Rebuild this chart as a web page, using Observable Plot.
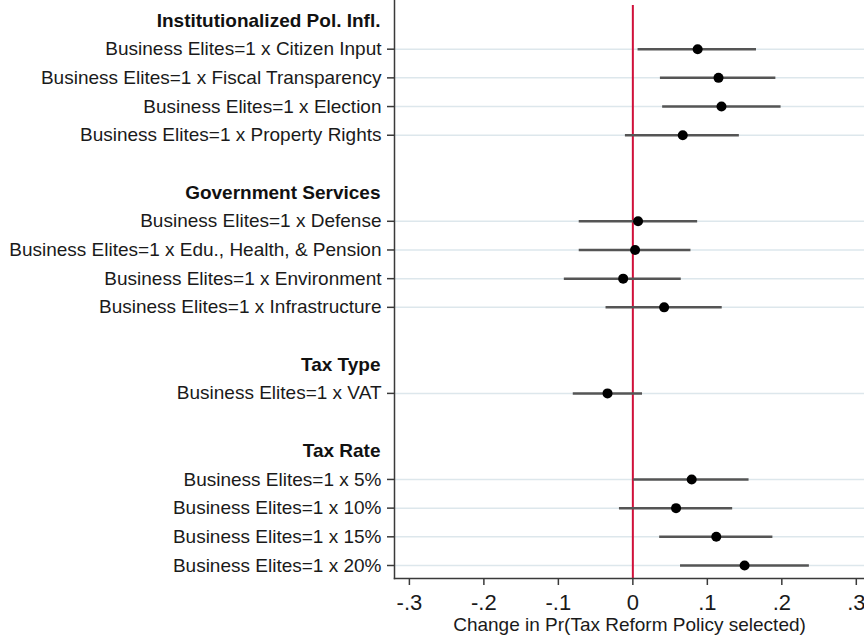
<!DOCTYPE html>
<html>
<head>
<meta charset="utf-8">
<script src="https://cdn.jsdelivr.net/npm/d3@7"></script>
<script src="https://cdn.jsdelivr.net/npm/@observablehq/plot@0.6"></script>
<style>
  html, body { margin: 0; padding: 0; background: #fff; }
  #chart svg { display: block; }
</style>
</head>
<body>
<div id="chart"></div>
<script>
// ---- data ----
const groups = ["Institutionalized Pol. Infl.", "Government Services", "Tax Type", "Tax Rate"];
const termLabels = [
  "Business Elites=1 x Citizen Input",
  "Business Elites=1 x Fiscal Transparency",
  "Business Elites=1 x Election",
  "Business Elites=1 x Property Rights",
  "Business Elites=1 x Defense",
  "Business Elites=1 x Edu., Health, & Pension",
  "Business Elites=1 x Environment",
  "Business Elites=1 x Infrastructure",
  "Business Elites=1 x VAT",
  "Business Elites=1 x 5%",
  "Business Elites=1 x 10%",
  "Business Elites=1 x 15%",
  "Business Elites=1 x 20%"
];
const termGroup = [0, 0, 0, 0, 1, 1, 1, 1, 2, 3, 3, 3, 3];
const estimates = [0.087, 0.115, 0.119, 0.067, 0.007, 0.003, -0.013, 0.042, -0.034, 0.079, 0.058, 0.112, 0.150];
const lower     = [0.007, 0.037, 0.040, -0.010, -0.072, -0.072, -0.092, -0.036, -0.080, 0.001, -0.018, 0.036, 0.064];
const upper     = [0.166, 0.192, 0.199, 0.143, 0.087, 0.078, 0.065, 0.120, 0.013, 0.156, 0.134, 0.188, 0.237];
const xTickValues = [-0.3, -0.2, -0.1, 0, 0.1, 0.2, 0.3];
const xTickLabels = ["-.3", "-.2", "-.1", "0", ".1", ".2", ".3"];
const xTitle = "Change in Pr(Tax Reform Policy selected)";

// ---- build row order (headers, terms, gaps) ----
const rows = [];
groups.forEach((g, gi) => {
  if (gi > 0) rows.push("__gap" + gi);
  rows.push(g);
  termLabels.forEach((t, i) => { if (termGroup[i] === gi) rows.push(t); });
});
const table = termLabels.map((t, i) => ({label: t, est: estimates[i], lo: lower[i], hi: upper[i]}));
const tickFmt = new Map(xTickValues.map((v, i) => [v, xTickLabels[i]]));

const font = "'Liberation Sans', Arial, Helvetica, sans-serif";
const axisColor = "#3a3a3a";

const chart = Plot.plot({
  width: 864,
  height: 642,
  marginLeft: 394,
  marginRight: 0,
  marginTop: 0,
  marginBottom: 64,
  style: {fontFamily: font, fontSize: "19px", color: "#1a1a1a", background: "#fff"},
  x: {domain: [-0.32, 0.311]},
  y: {type: "point", domain: rows, padding: 0, round: false, insetTop: 20, insetBottom: 13},
  marks: [
    Plot.ruleY(termLabels, {y: d => d, stroke: "#dde7ec", strokeWidth: 1.5}),
    Plot.ruleX([0], {stroke: "#d0103a", strokeWidth: 2, insetTop: 5}),
    Plot.ruleY(table, {y: "label", x1: "lo", x2: "hi", stroke: "#555", strokeWidth: 2.5}),
    Plot.dot(table, {y: "label", x: "est", r: 5, fill: "#000", stroke: "none"}),
    Plot.text(groups, {y: d => d, text: d => d, frameAnchor: "left", textAnchor: "end", dx: -14, fontWeight: "bold", fontSize: 19, fill: "#111"}),
    Plot.axisY({ticks: termLabels, tickSize: 7, tickPadding: 6, label: null, stroke: axisColor, strokeWidth: 1.5, fontSize: 19}),
    Plot.axisX({ticks: xTickValues, tickFormat: d => tickFmt.get(d), tickSize: 7, tickPadding: 9, label: null, stroke: axisColor, strokeWidth: 1.5, fontSize: 22}),
    Plot.frame({anchor: "left", stroke: axisColor, strokeWidth: 1.5}),
    Plot.frame({anchor: "bottom", stroke: axisColor, strokeWidth: 1.5}),
    Plot.text([xTitle], {text: d => d, frameAnchor: "bottom", dy: 52, fontSize: 19, fill: "#1a1a1a"})
  ]
});
document.getElementById("chart").appendChild(chart);
</script>
</body>
</html>
